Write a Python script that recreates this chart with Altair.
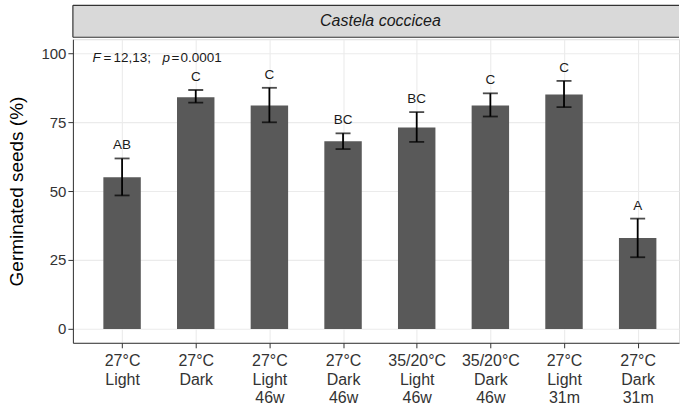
import json
import altair as alt
import pandas as pd

# ---- data ----
treatments = ["27°C\nLight", "27°C\nDark", "27°C\nLight\n46w", "27°C\nDark\n46w",
              "35/20°C\nLight\n46w", "35/20°C\nDark\n46w", "27°C\nLight\n31m", "27°C\nDark\n31m"]
germinated = [55.0, 84.0, 81.0, 68.0, 73.0, 81.0, 85.0, 33.0]
err_low = [48.4, 82.0, 74.9, 65.2, 67.8, 77.0, 80.4, 26.0]
err_high = [61.8, 86.6, 87.4, 70.9, 78.6, 85.4, 89.9, 40.0]
letters = ["AB", "C", "C", "BC", "BC", "C", "C", "A"]
y_ticks = [0, 25, 50, 75, 100]
species = "Castela coccicea"
stat_pieces = ["F", "=", "12,13;", "p", "=", "0.0001"]
stat_italic = [True, False, False, True, False, False]

df = pd.DataFrame({
    "idx": list(range(1, len(treatments) + 1)),
    "mean": germinated,
    "lo": err_low,
    "hi": err_high,
    "letter": letters,
})

FONT = "Liberation Sans"
W, H = 607, 304
STEP = 75.0
x_dom = [0.4, 0.4 + W / STEP]

label_arr = json.dumps([t.split("\n") for t in treatments], ensure_ascii=False)

x_enc = alt.X("idx:Q", scale=alt.Scale(domain=x_dom, nice=False, zero=False),
              axis=alt.Axis(values=list(range(1, len(treatments) + 1)),
                            labelExpr=f"{label_arr}[datum.value - 1]",
                            title=None, grid=True, gridColor="#ebebeb", gridWidth=1.1,
                            domain=True, domainColor="#333333", domainWidth=1,
                            tickColor="#333333", tickSize=5, tickWidth=1,
                            labelFontSize=16, labelColor="#333333", labelFont=FONT,
                            labelLineHeight=18.5, labelPadding=5, labelBaseline="top",
                            labelAngle=0))
y_scale = alt.Scale(domain=[-5, 105], nice=False, zero=False)

base = alt.Chart(df)

bars = base.mark_bar(size=STEP / 2, color="#595959").encode(
    x=x_enc,
    y=alt.Y("mean:Q", scale=y_scale,
            axis=alt.Axis(values=y_ticks, title="Germinated seeds (%)",
                          titleFontSize=19, titleFont=FONT, titleFontWeight="normal",
                          titleColor="#000000", titlePadding=14,
                          grid=True, gridColor="#ebebeb", gridWidth=1.1,
                          domain=True, domainColor="#333333", domainWidth=1,
                          tickColor="#333333", tickSize=5, tickWidth=1,
                          labelFontSize=15, labelColor="#333333", labelFont=FONT,
                          labelPadding=2)),
    y2=alt.Y2(datum=0),
)

rule = base.mark_rule(color="#000000", strokeWidth=1.8).encode(
    x="idx:Q", y=alt.Y("lo:Q", scale=y_scale), y2="hi:Q")
cap_lo = base.mark_tick(color="#000000", thickness=1.8, size=STEP * 0.2, orient="horizontal").encode(
    x="idx:Q", y=alt.Y("lo:Q", scale=y_scale))
cap_hi = base.mark_tick(color="#000000", thickness=1.8, size=STEP * 0.2, orient="horizontal").encode(
    x="idx:Q", y=alt.Y("hi:Q", scale=y_scale))
letter_txt = base.mark_text(dy=-13, baseline="middle", fontSize=13.5, font=FONT, color="#1a1a1a").encode(
    x="idx:Q", y=alt.Y("hi:Q", scale=y_scale), text="letter:N")

# statistic annotation pieces
stat_dx = [0, 11, 21, 70, 79, 88]
stat_layers = []
for piece, ital, dx in zip(stat_pieces, stat_italic, stat_dx):
    stat_layers.append(
        alt.Chart(pd.DataFrame({"x": [0.6], "y": [98.3], "t": [piece]})).mark_text(
            align="left", baseline="middle", fontSize=13.5, font=FONT, color="#1a1a1a",
            fontStyle="italic" if ital else "normal", dx=dx
        ).encode(x=alt.X("x:Q", scale=alt.Scale(domain=x_dom)), y=alt.Y("y:Q", scale=y_scale), text="t:N")
    )

main = alt.layer(bars, rule, cap_lo, cap_hi, letter_txt, *stat_layers).properties(width=W, height=H)

# strip header
SH = 32
strip_bg = alt.Chart(pd.DataFrame({"s": [species]}))
strip_text = strip_bg.mark_text(fontSize=16, fontStyle="italic", font=FONT, color="#1a1a1a",
                                baseline="middle", align="center").encode(
    x=alt.value(308), y=alt.value(SH / 2), text="s:N")
strip_top = strip_bg.mark_rule(color="#333333", strokeWidth=1.2).encode(
    x=alt.value(0), x2=alt.value(W), y=alt.value(0))
strip_bot = strip_bg.mark_rule(color="#333333", strokeWidth=1.2).encode(
    x=alt.value(0), x2=alt.value(W), y=alt.value(SH))
strip_left = strip_bg.mark_rule(color="#333333", strokeWidth=1.2).encode(
    x=alt.value(0), y=alt.value(0), y2=alt.value(SH))
strip = alt.layer(strip_text, strip_top, strip_bot, strip_left).properties(
    width=W, height=SH, view=alt.ViewBackground(fill="#d9d9d9", stroke=None))

chart = alt.vconcat(strip, main, spacing=0).properties(
    padding={"left": 7, "top": 4, "right": 0, "bottom": 0}
).configure_view(stroke=None).configure(background="white")

chart.save("out.html", embed_options={"renderer": "svg", "actions": False})
